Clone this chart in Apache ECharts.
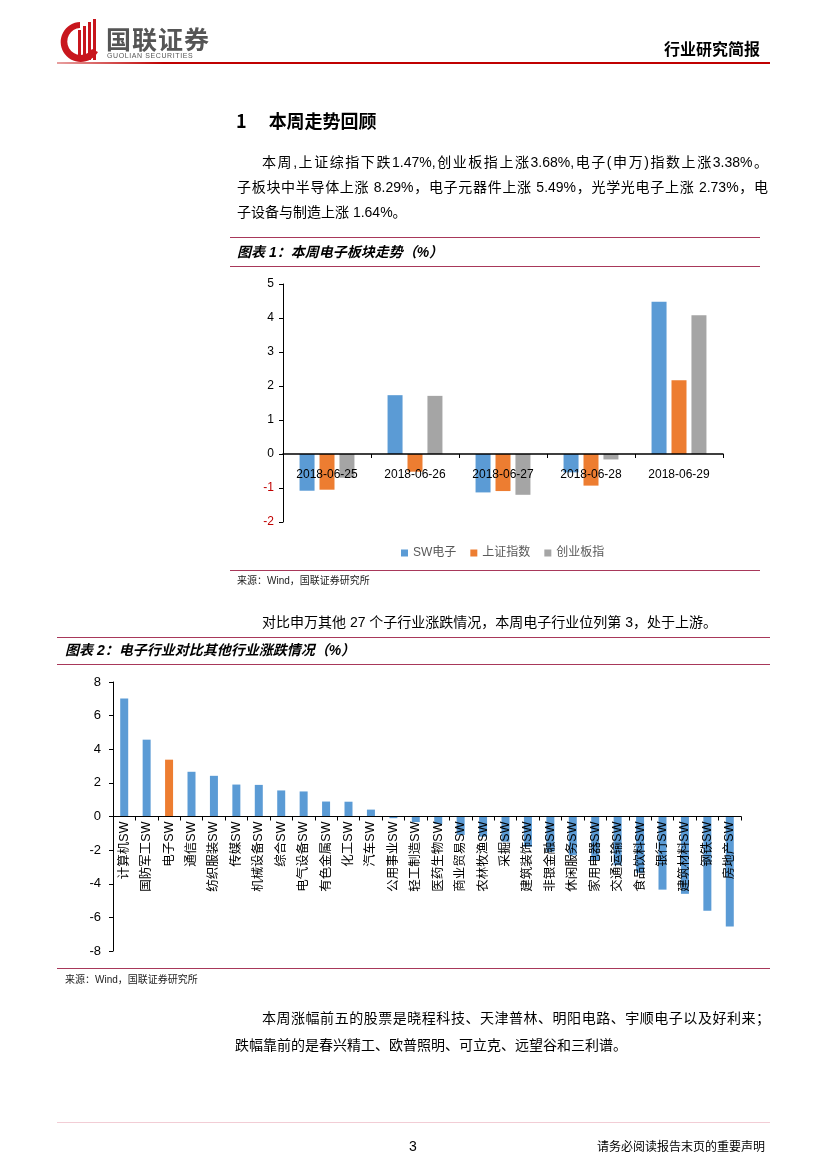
<!DOCTYPE html>
<html><head><meta charset="utf-8">
<script src="https://cdn.jsdelivr.net/npm/echarts@6/dist/echarts.min.js"></script>
<style>
html,body{margin:0;padding:0;background:#fff;}
#page{position:relative;width:827px;height:1169px;overflow:hidden;font-family:"Liberation Sans","Noto Sans CJK SC",sans-serif;color:#000;}
#chart{position:absolute;left:0;top:0;width:827px;height:1169px;}
.t{position:absolute;white-space:nowrap;line-height:1;}
.ln{position:absolute;height:1px;background:#A8385A;}
.p{font-size:14px;}
.just{text-align:justify;text-align-last:justify;}
.ttl{font-weight:bold;font-style:italic;font-size:14px;}
.src{font-size:10px;color:#222;}
</style></head>
<body><div id="page">
<div id="chart"></div>

<!-- header -->
<svg class="t" style="left:58px;top:16px" width="160" height="48" viewBox="0 0 160 48">
  <path d="M22 6 A20 20 0 1 0 40 36 L34 33 A13.5 13.5 0 1 1 22 12 Z" fill="#C8161D"/>
  <rect x="20" y="14" width="3" height="30" fill="#C8161D"/>
  <rect x="25" y="10" width="3" height="34" fill="#C8161D"/>
  <rect x="30" y="6" width="3" height="38" fill="#C8161D"/>
  <rect x="35" y="3" width="3" height="41" fill="#C8161D"/>
  <text x="48" y="33" font-family="Noto Sans CJK SC" font-weight="bold" font-size="25" fill="#555" letter-spacing="1">国联证券</text>
  <text x="49" y="42" font-family="Liberation Sans" font-size="7" fill="#555" letter-spacing="0.6">GUOLIAN SECURITIES</text>
</svg>
<div class="t" style="left:664px;top:40px;font-size:16px;font-weight:bold;font-family:'Noto Sans CJK SC';">行业研究简报</div>
<div style="position:absolute;left:57px;top:62px;width:713px;height:2px;background:linear-gradient(90deg,#E8A0A0,#C00000 15%,#C00000)"></div>

<!-- section -->
<div class="t" style="left:236px;top:111px;font-size:18px;font-weight:bold;font-family:'Noto Sans CJK SC';">1<span style="display:inline-block;width:22px"></span>本周走势回顾</div>
<div class="t p just" style="left:262px;top:155px;width:506px;">本周,上证综指下跌1.47%,创业板指上涨3.68%,电子(申万)指数上涨3.38%。</div>
<div class="t p just" style="left:237px;top:180px;width:531px;">子板块中半导体上涨 8.29%，电子元器件上涨 5.49%，光学光电子上涨 2.73%，电</div>
<div class="t p" style="left:237px;top:205px;">子设备与制造上涨 1.64%。</div>

<div class="ln" style="left:230px;top:237px;width:530px;"></div>
<div class="t ttl" style="left:237px;top:245px;">图表 1：本周电子板块走势（%）</div>
<div class="ln" style="left:230px;top:266px;width:530px;"></div>
<div class="ln" style="left:230px;top:570px;width:530px;"></div>
<div class="t src" style="left:237px;top:576px;">来源：Wind，国联证券研究所</div>

<div class="t p" style="left:262px;top:615px;">对比申万其他 27 个子行业涨跌情况，本周电子行业位列第 3，处于上游。</div>

<div class="ln" style="left:57px;top:637px;width:713px;"></div>
<div class="t ttl" style="left:65px;top:643px;">图表 2：电子行业对比其他行业涨跌情况（%）</div>
<div class="ln" style="left:57px;top:664px;width:713px;"></div>
<div class="ln" style="left:57px;top:968px;width:713px;"></div>
<div class="t src" style="left:65px;top:975px;">来源：Wind，国联证券研究所</div>

<div class="t p just" style="left:262px;top:1011px;width:508px;">本周涨幅前五的股票是晓程科技、天津普林、明阳电路、宇顺电子以及好利来；</div>
<div class="t p" style="left:235px;top:1038px;">跌幅靠前的是春兴精工、欧普照明、可立克、远望谷和三利谱。</div>

<div style="position:absolute;left:57px;top:1122px;width:713px;height:1px;background:#F2CDD5"></div>
<div class="t" style="left:409px;top:1139px;font-size:14px;">3</div>
<div class="t" style="left:597px;top:1140px;font-size:12px;font-family:'Noto Sans CJK SC';">请务必阅读报告末页的重要声明</div>
</div>

<script>
// ---- Chart 1 data ----
const dates = ['2018-06-25','2018-06-26','2018-06-27','2018-06-28','2018-06-29'];
const seriesNames = ['SW电子','上证指数','创业板指'];
const swElec = [-1.08, 1.73, -1.13, -0.54, 4.48];
const shIndex = [-1.05, -0.52, -1.09, -0.93, 2.17];
const gemIndex = [-0.70, 1.71, -1.20, -0.16, 4.08];
const y1Ticks = {min:-2, max:5, interval:1};

// ---- Chart 2 data ----
const industries = ['计算机SW','国防军工SW','电子SW','通信SW','纺织服装SW','传媒SW','机械设备SW','综合SW','电气设备SW','有色金属SW','化工SW','汽车SW','公用事业SW','轻工制造SW','医药生物SW','商业贸易SW','农林牧渔SW','采掘SW','建筑装饰SW','非银金融SW','休闲服务SW','家用电器SW','交通运输SW','食品饮料SW','银行SW','建筑材料SW','钢铁SW','房地产SW'];
const industryChange = [7.02, 4.57, 3.38, 2.66, 2.42, 1.90, 1.88, 1.55, 1.49, 0.89, 0.88, 0.41, -0.10, -0.33, -0.45, -1.10, -1.20, -1.50, -1.80, -2.10, -2.30, -2.60, -2.90, -3.35, -4.35, -4.60, -5.60, -6.55];
const y2Ticks = {min:-8, max:8, interval:2};

const BLUE = '#5B9BD5', ORANGE = '#ED7D31', GRAY = '#A5A5A5';
const chart = echarts.init(document.getElementById('chart'), null, {renderer:'canvas'});
const axisFont = {fontFamily:'Liberation Sans', fontSize:12, color:'#000'};

// grid geometry
const g1 = {left:283, top:284, width:440, height:238};
const g2 = {left:113, top:682, width:628, height:269};
// place category axes on the zero line (offset from grid bottom)
const off1 = -g1.height * (0 - y1Ticks.min) / (y1Ticks.max - y1Ticks.min);
const off2 = -g2.height * (0 - y2Ticks.min) / (y2Ticks.max - y2Ticks.min);

chart.setOption({
  animation:false,
  legend:{
    data:seriesNames, left:396, top:542, icon:'rect', itemWidth:7, itemHeight:7, itemGap:14,
    textStyle:{fontFamily:'Liberation Sans, Noto Sans CJK SC', fontSize:12, color:'#595959'}
  },
  grid:[g1, g2],
  xAxis:[
    {type:'category', gridIndex:0, data:dates, z:10, position:'bottom', offset:off1,
     axisLine:{onZero:false, lineStyle:{color:'#000', width:1.5}},
     axisTick:{show:true, length:4, lineStyle:{color:'#000'}},
     axisLabel:Object.assign({margin:15, interval:0}, axisFont)},
    {type:'category', gridIndex:1, data:industries, z:10, position:'bottom', offset:off2,
     axisLine:{onZero:false, lineStyle:{color:'#000', width:1.2}},
     axisTick:{show:true, length:4, lineStyle:{color:'#000'}},
     axisLabel:{interval:0, rotate:90, margin:5, fontFamily:'Liberation Sans, Noto Sans CJK SC', fontSize:12.5, color:'#000'}}
  ],
  yAxis:[
    {type:'value', gridIndex:0, min:y1Ticks.min, max:y1Ticks.max, interval:y1Ticks.interval,
     axisLine:{show:true, lineStyle:{color:'#000'}},
     axisTick:{show:true, length:4, lineStyle:{color:'#000'}},
     splitLine:{show:false},
     axisLabel:{margin:9, fontFamily:'Liberation Sans', fontSize:12, color:function(v){return Number(v)<0?'#C00000':'#000';}}},
    {type:'value', gridIndex:1, min:y2Ticks.min, max:y2Ticks.max, interval:y2Ticks.interval,
     axisLine:{show:true, lineStyle:{color:'#000'}},
     axisTick:{show:true, length:4, lineStyle:{color:'#000'}},
     splitLine:{show:false},
     axisLabel:Object.assign({margin:12}, axisFont, {fontSize:13})}
  ],
  series:[
    {name:seriesNames[0], type:'bar', xAxisIndex:0, yAxisIndex:0, data:swElec, barWidth:15, barGap:'33%', itemStyle:{color:BLUE}},
    {name:seriesNames[1], type:'bar', xAxisIndex:0, yAxisIndex:0, data:shIndex, barWidth:15, barGap:'33%', itemStyle:{color:ORANGE}},
    {name:seriesNames[2], type:'bar', xAxisIndex:0, yAxisIndex:0, data:gemIndex, barWidth:15, barGap:'33%', itemStyle:{color:GRAY}},
    {name:'行业涨跌', type:'bar', xAxisIndex:1, yAxisIndex:1, barWidth:8,
     data:industryChange.map((v,i)=>({value:v, itemStyle:{color: industries[i]==='电子SW'?ORANGE:BLUE}}))}
  ]
});
</script>
</body></html>
